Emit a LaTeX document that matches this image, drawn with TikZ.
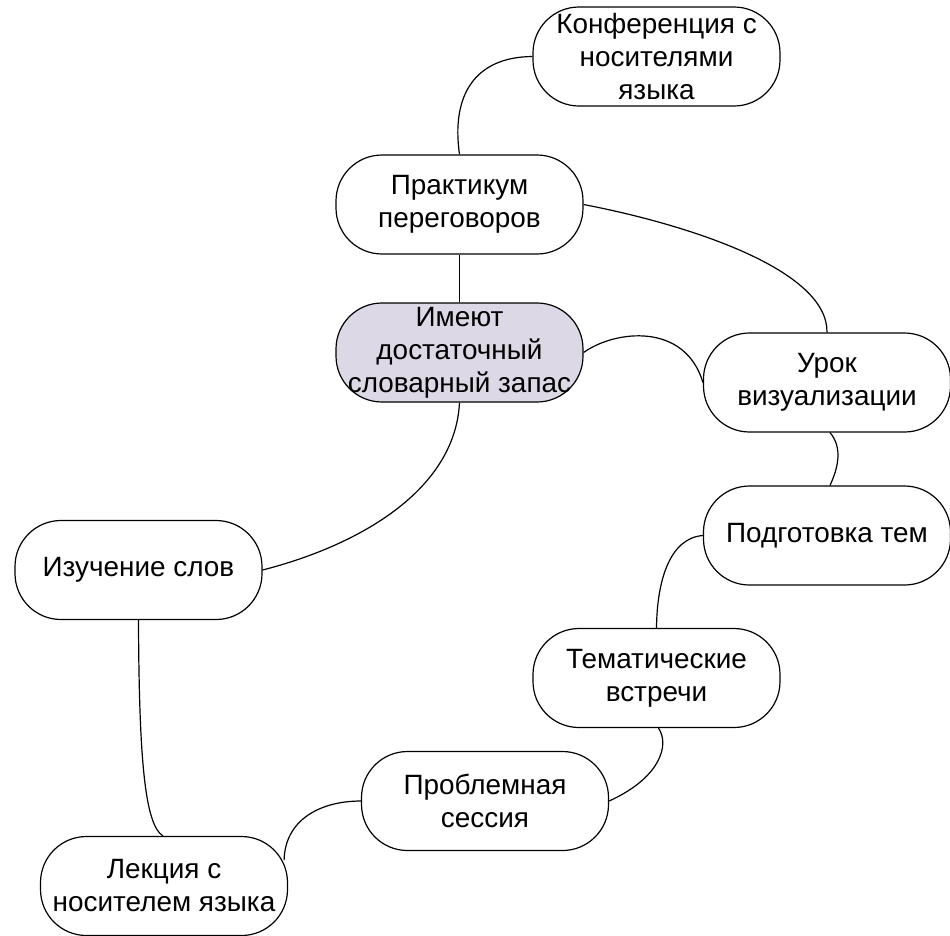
\documentclass[tikz,border=0pt]{standalone}
\usepackage{fontspec}
\setmainfont{Liberation Sans}
\usetikzlibrary{calc}
\definecolor{centerfill}{RGB}{221,216,229}
\tikzset{
  box/.style={draw=black, line width=1.2pt, fill=white, rectangle,
    rounded corners=46pt, minimum width=247pt, minimum height=99pt, inner sep=0pt},
  centerbox/.style={box, fill=centerfill},
  txt/.style={align=center, inner sep=0pt, text=black,
    font=\fontsize{27.9}{33}\selectfont},
  link/.style={draw=black, line width=1.2pt}
}
\begin{document}
\begin{tikzpicture}[x=1pt,y=-1pt]
\useasboundingbox (0,0) rectangle (950,935);
\fill[white] (0,0) rectangle (950,935);

\coordinate (pkonf) at (656.5,56.5);
\coordinate (pprak) at (459.5,204.5);
\coordinate (pimeut) at (459.5,352.5);
\coordinate (purok) at (827,382.5);
\coordinate (ppodg) at (827,535.5);
\coordinate (ptemat) at (656.5,678);
\coordinate (pizuch) at (138.5,570);
\coordinate (plekc) at (164,886);
\coordinate (pprobl) at (485,801);

\node[box] (konf) at (pkonf) {};
\node[box] (prak) at (pprak) {};
\node[centerbox] (imeut) at (pimeut) {};
\node[box] (urok) at (purok) {};
\node[box] (podg) at (ppodg) {};
\node[box] (temat) at (ptemat) {};
\node[box] (izuch) at (pizuch) {};
\node[box] (lekc) at (plekc) {};
\node[box] (probl) at (pprobl) {};

\path[link] (prak.north) .. controls (451,95) and (475,57) .. (konf.west);
\path[link] (prak.south) -- (imeut.north);
\path[link] (prak.east) .. controls (690,225) and (828,270) .. (urok.north);
\path[link] (imeut.east) .. controls (615,330) and (685,322) .. (urok.west);
\path[link] (imeut.south) .. controls (455,490) and (360,545) .. (izuch.east);
\path[link] ($(urok.south)+(3,0)$) .. controls (843,448) and (838,468) .. ($(podg.north)+(3,0)$);
\path[link] (podg.west) .. controls (670,538) and (657,580) .. (temat.north);
\path[link] ($(temat.south)+(2,0)$) .. controls (670,745) and (660,778) .. (probl.east);
\path[link] (probl.west) .. controls (320,801) and (285,820) .. ($(lekc.east)+(-4,-26)$);
\path[link] (izuch.south) .. controls (139,760) and (145,825) .. ($(lekc.north)+(-1,0)$);

\node[txt] (tkonf) at (konf.center) {Конференция с\\носителями\\языка};
\node[txt] (tprak) at (prak.center) {Практикум\\переговоров};
\node[txt] (timeut) at (imeut.center) {Имеют\\достаточный\\словарный запас};
\node[txt] (turok) at (urok.center) {Урок\\визуализации};
\node[txt] (tpodg) at (podg.center) {Подготовка тем};
\node[txt] (ttemat) at (temat.center) {Тематические\\встречи};
\node[txt] (tizuch) at (izuch.center) {Изучение слов};
\node[txt] (tlekc) at (lekc.center) {Лекция с\\носителем языка};
\node[txt] (tprobl) at (probl.center) {Проблемная\\сессия};
\end{tikzpicture}
\end{document}
